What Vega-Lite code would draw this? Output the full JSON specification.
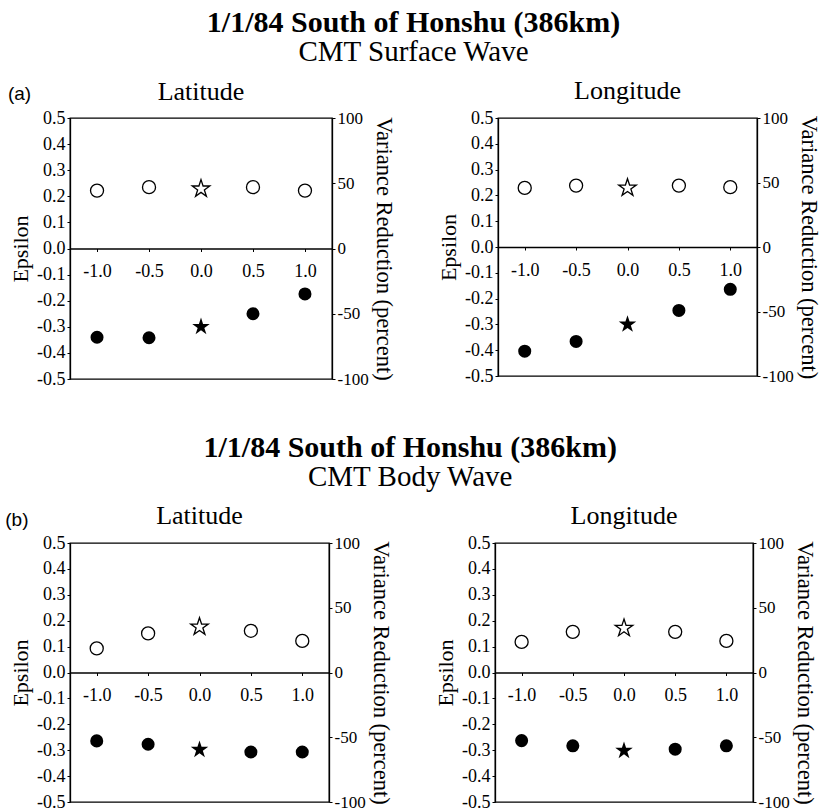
{
  "$schema": "https://vega.github.io/schema/vega-lite/v6.json",
  "background": "white",
  "padding": {"left": 4, "top": 8, "right": 0, "bottom": 0},
  "datasets": {
    "pts": [
      {"wave": "Surface", "dir": "Latitude", "shift": -1.0, "epsilon": -0.340, "vr": 44.4, "loc": "shifted"},
      {"wave": "Surface", "dir": "Latitude", "shift": -0.5, "epsilon": -0.342, "vr": 47.0, "loc": "shifted"},
      {"wave": "Surface", "dir": "Latitude", "shift": 0.0, "epsilon": -0.300, "vr": 45.7, "loc": "CMT"},
      {"wave": "Surface", "dir": "Latitude", "shift": 0.5, "epsilon": -0.250, "vr": 47.0, "loc": "shifted"},
      {"wave": "Surface", "dir": "Latitude", "shift": 1.0, "epsilon": -0.174, "vr": 44.4, "loc": "shifted"},
      {"wave": "Surface", "dir": "Longitude", "shift": -1.0, "epsilon": -0.404, "vr": 45.8, "loc": "shifted"},
      {"wave": "Surface", "dir": "Longitude", "shift": -0.5, "epsilon": -0.366, "vr": 47.6, "loc": "shifted"},
      {"wave": "Surface", "dir": "Longitude", "shift": 0.0, "epsilon": -0.300, "vr": 45.8, "loc": "CMT"},
      {"wave": "Surface", "dir": "Longitude", "shift": 0.5, "epsilon": -0.246, "vr": 47.6, "loc": "shifted"},
      {"wave": "Surface", "dir": "Longitude", "shift": 1.0, "epsilon": -0.164, "vr": 46.4, "loc": "shifted"},
      {"wave": "Body", "dir": "Latitude", "shift": -1.0, "epsilon": -0.264, "vr": 18.6, "loc": "shifted"},
      {"wave": "Body", "dir": "Latitude", "shift": -0.5, "epsilon": -0.277, "vr": 30.2, "loc": "shifted"},
      {"wave": "Body", "dir": "Latitude", "shift": 0.0, "epsilon": -0.298, "vr": 35.2, "loc": "CMT"},
      {"wave": "Body", "dir": "Latitude", "shift": 0.5, "epsilon": -0.307, "vr": 32.2, "loc": "shifted"},
      {"wave": "Body", "dir": "Latitude", "shift": 1.0, "epsilon": -0.307, "vr": 24.4, "loc": "shifted"},
      {"wave": "Body", "dir": "Longitude", "shift": -1.0, "epsilon": -0.263, "vr": 23.6, "loc": "shifted"},
      {"wave": "Body", "dir": "Longitude", "shift": -0.5, "epsilon": -0.283, "vr": 31.4, "loc": "shifted"},
      {"wave": "Body", "dir": "Longitude", "shift": 0.0, "epsilon": -0.302, "vr": 34.2, "loc": "CMT"},
      {"wave": "Body", "dir": "Longitude", "shift": 0.5, "epsilon": -0.296, "vr": 31.4, "loc": "shifted"},
      {"wave": "Body", "dir": "Longitude", "shift": 1.0, "epsilon": -0.283, "vr": 24.4, "loc": "shifted"}
    ]
  },
  "config": {
    "font": "Liberation Serif",
    "view": {"stroke": "black", "strokeWidth": 1.3},
    "axis": {
      "grid": false,
      "domainColor": "black",
      "domainWidth": 1.3,
      "tickColor": "black",
      "tickSize": 3,
      "labelFont": "Liberation Serif",
      "labelFontSize": 18,
      "labelColor": "black",
      "titleFont": "Liberation Serif",
      "titleFontSize": 22,
      "titleFontWeight": "normal",
      "titleColor": "black",
      "labelExpr": "replace(datum.label, '\u2212', '-')"
    },
    "text": {"font": "Liberation Serif", "color": "black", "baseline": "alphabetic"}
  },
  "spacing": 44,
  "vconcat": [
    {
      "title": {"text": "1/1/84 South of Honshu (386km)", "subtitle": "CMT Surface Wave", "anchor": "middle", "font": "Liberation Serif", "fontSize": 30, "fontWeight": "bold", "color": "black", "subtitleFont": "Liberation Serif", "subtitleFontSize": 29, "subtitleColor": "black", "subtitlePadding": 0, "offset": 10},
      "spacing": 41,
      "hconcat": [
        {
          "width": 262, "height": 261,
          "data": {"name": "pts"},
          "transform": [{"filter": "datum.wave == 'Surface' && datum.dir == 'Latitude'"}],
          "layer": [
            {
              "mark": {"type": "point", "filled": true, "color": "black", "opacity": 1},
              "encoding": {
                "x": {"field": "shift", "type": "quantitative", "scale": {"domain": [-1.26, 1.26]}, "axis": {"offset": -130.5, "values": [-1, -0.5, 0, 0.5, 1], "format": ".1f", "title": null, "labelPadding": 11}},
                "y": {"field": "epsilon", "type": "quantitative", "scale": {"domain": [-0.5, 0.5]}, "axis": {"orient": "left", "title": "Epsilon", "values": [-0.5, -0.4, -0.3, -0.2, -0.1, 0, 0.1, 0.2, 0.3, 0.4, 0.5], "format": ".1f", "titlePadding": 4}},
                "shape": {"condition": {"test": "datum.loc == 'CMT'", "value": "M0,-1L0.225,-0.309L0.951,-0.309L0.363,0.118L0.588,0.809L0,0.382L-0.588,0.809L-0.363,0.118L-0.951,-0.309L-0.225,-0.309Z"}, "value": "circle"},
                "size": {"condition": {"test": "datum.loc == 'CMT'", "value": 340}, "value": 170}
              }
            },
            {
              "mark": {"type": "point", "filled": false, "color": "black", "strokeWidth": 1.3, "opacity": 1},
              "encoding": {
                "x": {"field": "shift", "type": "quantitative", "scale": {"domain": [-1.26, 1.26]}},
                "y": {"field": "vr", "type": "quantitative", "scale": {"domain": [-100, 100]}, "axis": {"orient": "right", "title": "Variance Reduction (percent)", "values": [-100, -50, 0, 50, 100], "labelFontSize": 17, "titleFontSize": 22.5, "titlePadding": 3}},
                "shape": {"condition": {"test": "datum.loc == 'CMT'", "value": "M0,-1L0.225,-0.309L0.951,-0.309L0.363,0.118L0.588,0.809L0,0.382L-0.588,0.809L-0.363,0.118L-0.951,-0.309L-0.225,-0.309Z"}, "value": "circle"},
                "size": {"condition": {"test": "datum.loc == 'CMT'", "value": 340}, "value": 170}
              }
            },
            {
              "data": {"values": [{"label": "(a)"}]},
              "mark": {"type": "text", "font": "Liberation Sans", "fontSize": 19, "align": "left"},
              "encoding": {
                "x": {"datum": -1.857, "scale": {"domain": [-1.26, 1.26]}},
                "y": {"datum": 0.57, "scale": {"domain": [-0.5, 0.5]}, "axis": null},
                "text": {"field": "label"}
              }
            },
            {
              "data": {"values": [{"label": "Latitude"}]},
              "mark": {"type": "text", "fontSize": 26, "align": "center"},
              "encoding": {
                "x": {"datum": 0, "scale": {"domain": [-1.26, 1.26]}},
                "y": {"datum": 0.57, "scale": {"domain": [-0.5, 0.5]}, "axis": null},
                "text": {"field": "label"}
              }
            }
          ],
          "resolve": {"scale": {"y": "independent"}}
        },
        {
          "width": 259, "height": 258,
          "data": {"name": "pts"},
          "transform": [{"filter": "datum.wave == 'Surface' && datum.dir == 'Longitude'"}],
          "layer": [
            {
              "mark": {"type": "point", "filled": true, "color": "black", "opacity": 1},
              "encoding": {
                "x": {"field": "shift", "type": "quantitative", "scale": {"domain": [-1.26, 1.26]}, "axis": {"offset": -129, "values": [-1, -0.5, 0, 0.5, 1], "format": ".1f", "title": null, "labelPadding": 11}},
                "y": {"field": "epsilon", "type": "quantitative", "scale": {"domain": [-0.5, 0.5]}, "axis": {"orient": "left", "title": "Epsilon", "values": [-0.5, -0.4, -0.3, -0.2, -0.1, 0, 0.1, 0.2, 0.3, 0.4, 0.5], "format": ".1f", "titlePadding": 4}},
                "shape": {"condition": {"test": "datum.loc == 'CMT'", "value": "M0,-1L0.225,-0.309L0.951,-0.309L0.363,0.118L0.588,0.809L0,0.382L-0.588,0.809L-0.363,0.118L-0.951,-0.309L-0.225,-0.309Z"}, "value": "circle"},
                "size": {"condition": {"test": "datum.loc == 'CMT'", "value": 340}, "value": 170}
              }
            },
            {
              "mark": {"type": "point", "filled": false, "color": "black", "strokeWidth": 1.3, "opacity": 1},
              "encoding": {
                "x": {"field": "shift", "type": "quantitative", "scale": {"domain": [-1.26, 1.26]}},
                "y": {"field": "vr", "type": "quantitative", "scale": {"domain": [-100, 100]}, "axis": {"orient": "right", "title": "Variance Reduction (percent)", "values": [-100, -50, 0, 50, 100], "labelFontSize": 17, "titleFontSize": 22.5, "titlePadding": 3}},
                "shape": {"condition": {"test": "datum.loc == 'CMT'", "value": "M0,-1L0.225,-0.309L0.951,-0.309L0.363,0.118L0.588,0.809L0,0.382L-0.588,0.809L-0.363,0.118L-0.951,-0.309L-0.225,-0.309Z"}, "value": "circle"},
                "size": {"condition": {"test": "datum.loc == 'CMT'", "value": 340}, "value": 170}
              }
            },
            {
              "data": {"values": [{"label": "Longitude"}]},
              "mark": {"type": "text", "fontSize": 26, "align": "center"},
              "encoding": {
                "x": {"datum": 0, "scale": {"domain": [-1.26, 1.26]}},
                "y": {"datum": 0.575, "scale": {"domain": [-0.5, 0.5]}, "axis": null},
                "text": {"field": "label"}
              }
            }
          ],
          "resolve": {"scale": {"y": "independent"}}
        }
      ]
    },
    {
      "title": {"text": "1/1/84 South of Honshu (386km)", "subtitle": "CMT Body Wave", "anchor": "middle", "font": "Liberation Serif", "fontSize": 30, "fontWeight": "bold", "color": "black", "subtitleFont": "Liberation Serif", "subtitleFontSize": 29, "subtitleColor": "black", "subtitlePadding": 0, "offset": 10},
      "spacing": 41,
      "hconcat": [
        {
          "width": 259, "height": 259,
          "data": {"name": "pts"},
          "transform": [{"filter": "datum.wave == 'Body' && datum.dir == 'Latitude'"}],
          "layer": [
            {
              "mark": {"type": "point", "filled": true, "color": "black", "opacity": 1},
              "encoding": {
                "x": {"field": "shift", "type": "quantitative", "scale": {"domain": [-1.26, 1.26]}, "axis": {"offset": -129.5, "values": [-1, -0.5, 0, 0.5, 1], "format": ".1f", "title": null, "labelPadding": 11}},
                "y": {"field": "epsilon", "type": "quantitative", "scale": {"domain": [-0.5, 0.5]}, "axis": {"orient": "left", "title": "Epsilon", "values": [-0.5, -0.4, -0.3, -0.2, -0.1, 0, 0.1, 0.2, 0.3, 0.4, 0.5], "format": ".1f", "titlePadding": 4}},
                "shape": {"condition": {"test": "datum.loc == 'CMT'", "value": "M0,-1L0.225,-0.309L0.951,-0.309L0.363,0.118L0.588,0.809L0,0.382L-0.588,0.809L-0.363,0.118L-0.951,-0.309L-0.225,-0.309Z"}, "value": "circle"},
                "size": {"condition": {"test": "datum.loc == 'CMT'", "value": 340}, "value": 170}
              }
            },
            {
              "mark": {"type": "point", "filled": false, "color": "black", "strokeWidth": 1.3, "opacity": 1},
              "encoding": {
                "x": {"field": "shift", "type": "quantitative", "scale": {"domain": [-1.26, 1.26]}},
                "y": {"field": "vr", "type": "quantitative", "scale": {"domain": [-100, 100]}, "axis": {"orient": "right", "title": "Variance Reduction (percent)", "values": [-100, -50, 0, 50, 100], "labelFontSize": 17, "titleFontSize": 22.5, "titlePadding": 3}},
                "shape": {"condition": {"test": "datum.loc == 'CMT'", "value": "M0,-1L0.225,-0.309L0.951,-0.309L0.363,0.118L0.588,0.809L0,0.382L-0.588,0.809L-0.363,0.118L-0.951,-0.309L-0.225,-0.309Z"}, "value": "circle"},
                "size": {"condition": {"test": "datum.loc == 'CMT'", "value": 340}, "value": 170}
              }
            },
            {
              "data": {"values": [{"label": "(b)"}]},
              "mark": {"type": "text", "font": "Liberation Sans", "fontSize": 19, "align": "left"},
              "encoding": {
                "x": {"datum": -1.89, "scale": {"domain": [-1.26, 1.26]}},
                "y": {"datum": 0.567, "scale": {"domain": [-0.5, 0.5]}, "axis": null},
                "text": {"field": "label"}
              }
            },
            {
              "data": {"values": [{"label": "Latitude"}]},
              "mark": {"type": "text", "fontSize": 26, "align": "center"},
              "encoding": {
                "x": {"datum": 0, "scale": {"domain": [-1.26, 1.26]}},
                "y": {"datum": 0.573, "scale": {"domain": [-0.5, 0.5]}, "axis": null},
                "text": {"field": "label"}
              }
            }
          ],
          "resolve": {"scale": {"y": "independent"}}
        },
        {
          "width": 258, "height": 259,
          "data": {"name": "pts"},
          "transform": [{"filter": "datum.wave == 'Body' && datum.dir == 'Longitude'"}],
          "layer": [
            {
              "mark": {"type": "point", "filled": true, "color": "black", "opacity": 1},
              "encoding": {
                "x": {"field": "shift", "type": "quantitative", "scale": {"domain": [-1.26, 1.26]}, "axis": {"offset": -129.5, "values": [-1, -0.5, 0, 0.5, 1], "format": ".1f", "title": null, "labelPadding": 11}},
                "y": {"field": "epsilon", "type": "quantitative", "scale": {"domain": [-0.5, 0.5]}, "axis": {"orient": "left", "title": "Epsilon", "values": [-0.5, -0.4, -0.3, -0.2, -0.1, 0, 0.1, 0.2, 0.3, 0.4, 0.5], "format": ".1f", "titlePadding": 4}},
                "shape": {"condition": {"test": "datum.loc == 'CMT'", "value": "M0,-1L0.225,-0.309L0.951,-0.309L0.363,0.118L0.588,0.809L0,0.382L-0.588,0.809L-0.363,0.118L-0.951,-0.309L-0.225,-0.309Z"}, "value": "circle"},
                "size": {"condition": {"test": "datum.loc == 'CMT'", "value": 340}, "value": 170}
              }
            },
            {
              "mark": {"type": "point", "filled": false, "color": "black", "strokeWidth": 1.3, "opacity": 1},
              "encoding": {
                "x": {"field": "shift", "type": "quantitative", "scale": {"domain": [-1.26, 1.26]}},
                "y": {"field": "vr", "type": "quantitative", "scale": {"domain": [-100, 100]}, "axis": {"orient": "right", "title": "Variance Reduction (percent)", "values": [-100, -50, 0, 50, 100], "labelFontSize": 17, "titleFontSize": 22.5, "titlePadding": 3}},
                "shape": {"condition": {"test": "datum.loc == 'CMT'", "value": "M0,-1L0.225,-0.309L0.951,-0.309L0.363,0.118L0.588,0.809L0,0.382L-0.588,0.809L-0.363,0.118L-0.951,-0.309L-0.225,-0.309Z"}, "value": "circle"},
                "size": {"condition": {"test": "datum.loc == 'CMT'", "value": 340}, "value": 170}
              }
            },
            {
              "data": {"values": [{"label": "Longitude"}]},
              "mark": {"type": "text", "fontSize": 26, "align": "center"},
              "encoding": {
                "x": {"datum": 0, "scale": {"domain": [-1.26, 1.26]}},
                "y": {"datum": 0.573, "scale": {"domain": [-0.5, 0.5]}, "axis": null},
                "text": {"field": "label"}
              }
            }
          ],
          "resolve": {"scale": {"y": "independent"}}
        }
      ]
    }
  ]
}
